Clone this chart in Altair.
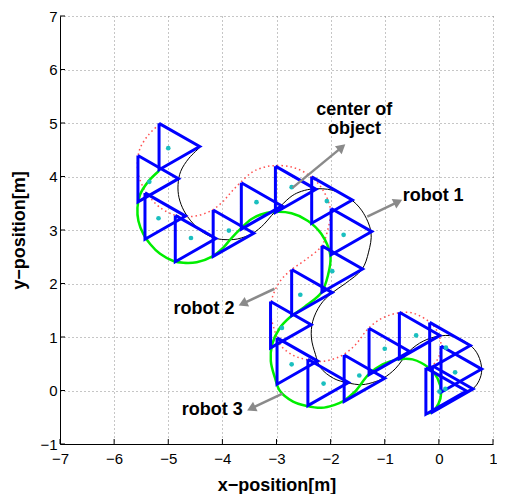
import altair as alt
import numpy as np
import pandas as pd

# ---------------- values ----------------
x_ticks = [-7, -6, -5, -4, -3, -2, -1, 0, 1]
y_ticks = [-1, 0, 1, 2, 3, 4, 5, 6, 7]

# robot 1 trajectory (right vertex of the formation), in order of travel
r1_x = [-4.419, -4.617, -4.770, -4.819, -4.801, -4.709, -4.585, -4.401, -4.156, -3.971,
        -3.724, -3.442, -3.234, -3.092, -2.926, -2.711, -2.539, -2.312, -1.973, -1.667,
        -1.420, -1.254, -1.299, -1.420, -1.728, -1.986, -2.189, -2.331, -2.355, -2.281,
        -2.189, -1.944, -1.697, -1.420, -1.175, -1.022, -0.806, -0.543, -0.290, -0.008,
        0.263, 0.576, 0.724, 0.792, 0.742, 0.637, 0.515]
r1_y = [4.540, 4.342, 4.096, 3.848, 3.603, 3.357, 3.172, 2.987, 2.854, 2.821,
        2.832, 2.937, 3.104, 3.270, 3.445, 3.640, 3.723, 3.769, 3.745, 3.603,
        3.357, 2.956, 2.586, 2.266, 2.000, 1.815, 1.601, 1.292, 0.983, 0.677,
        0.429, 0.226, 0.146, 0.109, 0.165, 0.233, 0.405, 0.738, 0.922, 1.015,
        1.015, 0.848, 0.663, 0.386, 0.183, 0.041, -0.002]

# formation (triangle) centres
tri_cx = [-4.92, -5.31, -5.18, -4.62, -3.92, -3.40, -2.77, -2.10, -1.74, -1.91, -2.47,
          -2.86, -2.74, -2.17, -1.50, -1.04, -0.48, 0.08, 0.29, 0.13, 0.01]
tri_cy = [4.56, 3.96, 3.26, 2.84, 2.94, 3.45, 3.76, 3.56, 2.97, 2.27, 1.83,
          1.23, 0.55, 0.15, 0.23, 0.73, 1.03, 0.84, 0.40, 0.03, -0.01]

# object centre (cyan dots)
obj_x = [-5.00, -5.35, -5.18, -4.58, -3.88, -3.37, -2.72, -2.07, -1.76, -1.97, -2.56,
         -2.90, -2.72, -2.13, -1.47, -1.00, -0.42, 0.13, 0.30, 0.12, 0.01]
obj_y = [4.53, 3.90, 3.22, 2.85, 2.99, 3.52, 3.80, 3.54, 2.91, 2.23, 1.79,
         1.17, 0.49, 0.13, 0.28, 0.78, 1.03, 0.80, 0.34, 0.03, -0.02]

# annotations
ann_text = ["center of", "object", "robot 1", "robot 2", "robot 3"]
ann_x = [-1.565, -1.559, -0.106, -4.341, -4.189]
ann_y = [5.235, 4.882, 3.640, 1.532, -0.372]

arr_x0 = [-2.705, -1.323, -3.037, -2.889]
arr_y0 = [3.787, 3.251, 1.902, -0.057]
arr_x1 = [-1.728, -0.677, -3.700, -3.544]
arr_y1 = [4.601, 3.565, 1.588, -0.372]

# formation geometry: equilateral triangle, circumradius 0.5
CR = 0.5
HALF_SIDE = CR * np.sqrt(3) / 2

# ---------------- tables ----------------
r1 = np.array(r1_x), np.array(r1_y)
paths = []
for name, dx, dy in [("robot1", 0.0, 0.0), ("robot2", -1.5 * CR, HALF_SIDE),
                     ("robot3", -1.5 * CR, -HALF_SIDE)]:
    for i, (px, py) in enumerate(zip(r1[0] + dx, r1[1] + dy)):
        paths.append({"robot": name, "i": i, "x": px, "y": py})
paths = pd.DataFrame(paths)

tri_rows = []
for k, (cx, cy) in enumerate(zip(tri_cx, tri_cy)):
    verts = [(cx - CR / 2, cy + HALF_SIDE), (cx + CR, cy), (cx - CR / 2, cy - HALF_SIDE),
             (cx - CR / 2, cy + HALF_SIDE)]
    for j, (vx, vy) in enumerate(verts):
        tri_rows.append({"tri": k, "j": j, "x": vx, "y": vy})
tris = pd.DataFrame(tri_rows)

objs = pd.DataFrame({"x": obj_x, "y": obj_y})
anns = pd.DataFrame({"t": ann_text, "x": ann_x, "y": ann_y})

arr_rows, head_rows = [], []
for k in range(len(arr_x0)):
    x0, y0, x1, y1 = arr_x0[k], arr_y0[k], arr_x1[k], arr_y1[k]
    d = np.hypot(x1 - x0, y1 - y0)
    ux, uy = (x1 - x0) / d, (y1 - y0) / d
    arr_rows.append({"a": k, "j": 0, "x": x0, "y": y0})
    arr_rows.append({"a": k, "j": 1, "x": x1 - 0.14 * ux, "y": y1 - 0.14 * uy})
    ang = np.degrees(np.arctan2(ux, uy)) % 360
    head_rows.append({"x": x1 - 0.085 * ux, "y": y1 - 0.085 * uy, "ang": ang})
arrs = pd.DataFrame(arr_rows)
heads = pd.DataFrame(head_rows)

xt = pd.DataFrame({"x": x_ticks})
yt = pd.DataFrame({"y": y_ticks})

# ---------------- encodings ----------------
FONT = "Liberation Sans"
W, H = 433, 428
xscale = alt.Scale(domain=[-7, 1], nice=False, zero=False)
yscale = alt.Scale(domain=[-1, 7], nice=False, zero=False)
xaxis = alt.Axis(values=x_ticks, title="x\u2212position[m]", grid=True, ticks=False,
                 labelPadding=7, titlePadding=10, labelFlush=False)
yaxis = alt.Axis(values=y_ticks, title="y\u2212position[m]", grid=True, ticks=False,
                 labelPadding=3, titlePadding=11, labelFlush=False)


def X(f="x"):
    return alt.X(f"{f}:Q", scale=xscale, axis=xaxis)


def Y(f="y"):
    return alt.Y(f"{f}:Q", scale=yscale, axis=yaxis)


xtick_layer = alt.Chart(xt).mark_rule(color="black", strokeWidth=1).encode(
    x=X(), y=alt.value(H), y2=alt.value(H - 5))
ytick_layer = alt.Chart(yt).mark_rule(color="black", strokeWidth=1).encode(
    y=Y(), x=alt.value(0), x2=alt.value(5))

black = alt.Chart(paths[paths.robot == "robot1"]).mark_line(
    color="black", strokeWidth=1, interpolate="catmull-rom").encode(
    x=X(), y=Y(), order="i:Q")
red = alt.Chart(paths[paths.robot == "robot2"]).mark_line(
    color="#ff5050", strokeWidth=1.5, strokeDash=[1.5, 3], interpolate="catmull-rom").encode(
    x=X(), y=Y(), order="i:Q")
green = alt.Chart(paths[paths.robot == "robot3"]).mark_line(
    color="#00ee00", strokeWidth=2.5, interpolate="catmull-rom").encode(
    x=X(), y=Y(), order="i:Q")

tri_layer = alt.Chart(tris).mark_line(color="#0000ff", strokeWidth=3, strokeJoin="miter").encode(
    x=X(), y=Y(), detail="tri:N", order="j:Q")

dots = alt.Chart(objs).mark_circle(color="#1abfbf", size=22, opacity=1).encode(x=X(), y=Y())

arr_layer = alt.Chart(arrs).mark_line(color="#8a8a8a", strokeWidth=2.5).encode(
    x=X(), y=Y(), detail="a:N", order="j:Q")
head_layer = alt.Chart(heads).mark_point(shape="triangle-up", filled=True, color="#8a8a8a",
                                         size=110, opacity=1).encode(
    x=X(), y=Y(), angle=alt.Angle("ang:Q", scale=None))

text_layer = alt.Chart(anns).mark_text(font=FONT, fontSize=18, fontWeight="bold",
                                       color="black").encode(x=X(), y=Y(), text="t:N")

chart = alt.layer(
    xtick_layer, ytick_layer, black, red, green, tri_layer, dots, arr_layer, head_layer, text_layer
).properties(
    width=W, height=H, autosize="none",
    padding={"left": 52, "top": 8, "right": 4, "bottom": 50},
).configure_view(stroke=None).configure_axis(
    labelFont=FONT, labelFontSize=15, labelColor="black",
    titleFont=FONT, titleFontSize=18, titleFontWeight="bold", titleColor="black",
    domainColor="black", domainWidth=1,
    gridColor="#8c8c8c", gridDash=[1, 3], gridWidth=1,
)

chart.save("out.html", embed_options={"renderer": "svg", "actions": False})
